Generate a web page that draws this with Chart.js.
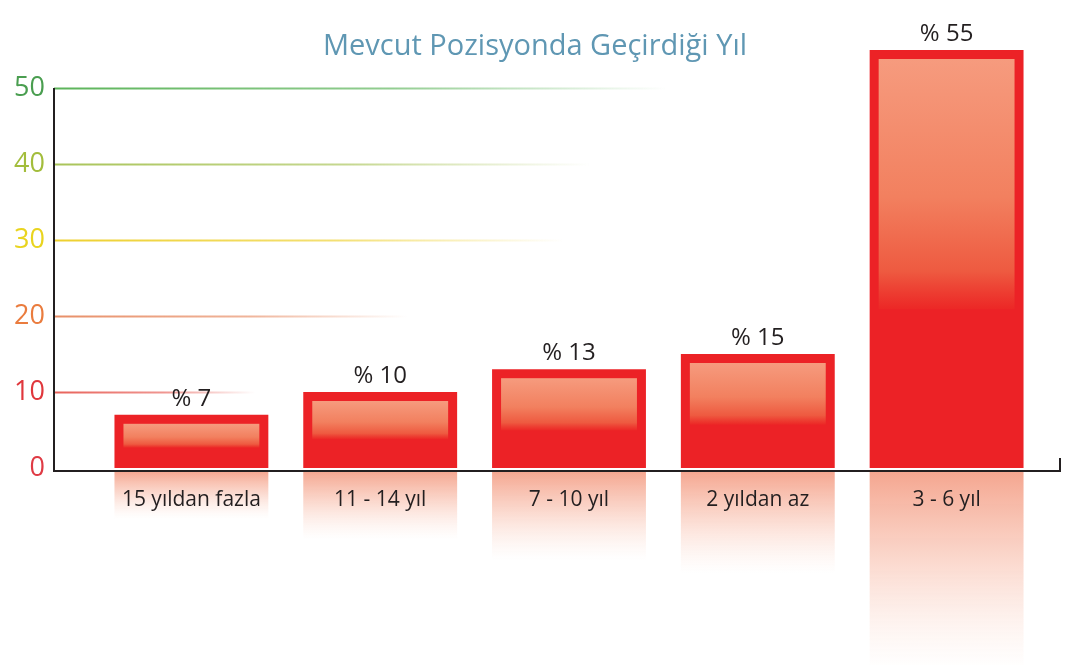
<!DOCTYPE html>
<html lang="tr">
<head>
<meta charset="utf-8">
<title>Mevcut Pozisyonda Geçirdiği Yıl</title>
<script src="https://cdn.jsdelivr.net/npm/chart.js@4"></script>
<style>
  html, body { margin: 0; padding: 0; background: #ffffff; }
  #wrap { width: 1072px; height: 665px; position: relative; }
</style>
</head>
<body>
<div id="wrap"><canvas id="chart"></canvas></div>
<script>
'use strict';

// ─── Data ────────────────────────────────────────────────
const titleText = 'Mevcut Pozisyonda Geçirdiği Yıl';
const categories = ['15 yıldan fazla', '11 - 14 yıl', '7 - 10 yıl', '2 yıldan az', '3 - 6 yıl'];
const shares = [7, 10, 13, 15, 55];
const yTickValues = [0, 10, 20, 30, 40, 50];

// ─── Styles ──────────────────────────────────────────────
const tickColors = { 0: '#df3a44', 10: '#e0373c', 20: '#ea7c3e', 30: '#e9d41f', 40: '#a3bd3c', 50: '#4a9e50' };
const gridColors = { 10: '#e8625a', 20: '#e88f68', 30: '#eed02e', 40: '#a9c459', 50: '#5cb45a' };
const gridEnds   = { 10: 255, 20: 407, 30: 563, 40: 590, 50: 667 };
const BAR_RED = '#ec2226';
const FONT = "'Open Sans', sans-serif";

// Reflections, highlights, gridlines, axes, value labels, title
const decoPlugin = {
  id: 'deco',
  beforeDraw(chart) {
    const { ctx: c, chartArea: { left, bottom }, scales: { y } } = chart;
    // faded coloured gridlines
    yTickValues.forEach(v => {
      if (!gridColors[v]) return;
      const py = Math.round(y.getPixelForValue(v)) + 0.5;
      const x0 = left - 43, x1 = gridEnds[v];
      const g = c.createLinearGradient(x0, 0, x1, 0);
      g.addColorStop(0, gridColors[v]);
      g.addColorStop(0.55, gridColors[v] + 'aa');
      g.addColorStop(1, gridColors[v] + '00');
      c.save();
      c.strokeStyle = g;
      c.lineWidth = 2;
      c.beginPath(); c.moveTo(x0, py); c.lineTo(x1, py); c.stroke();
      c.restore();
    });
    // reflections under the axis
    const meta = chart.getDatasetMeta(0);
    meta.data.forEach(bar => {
      const h = bar.base - bar.y;
      const len = Math.min(h * 0.9, 200);
      const top = bottom + 3;
      const g = c.createLinearGradient(0, top, 0, top + len);
      g.addColorStop(0, 'rgba(240,128,96,0.7)');
      g.addColorStop(0.5, 'rgba(244,150,120,0.32)');
      g.addColorStop(1, 'rgba(250,200,180,0)');
      c.save();
      c.fillStyle = g;
      c.fillRect(bar.x - bar.width / 2, top, bar.width, len);
      c.restore();
    });
  },
  afterDatasetsDraw(chart) {
    const { ctx: c, chartArea: { left, right, top, bottom } } = chart;
    const meta = chart.getDatasetMeta(0);
    meta.data.forEach((bar, i) => {
      const h = bar.base - bar.y;
      const x0 = bar.x - bar.width / 2 + 9;
      const w = bar.width - 18;
      const y0 = bar.y + 9;
      const ih = Math.max(h * 0.62 - 9, 10);
      const g = c.createLinearGradient(0, y0, 0, y0 + ih);
      g.addColorStop(0, '#f69b7e');
      g.addColorStop(0.55, '#f2805f');
      g.addColorStop(0.85, '#ee5a40');
      g.addColorStop(1, 'rgba(236,40,38,0.9)');
      c.save();
      c.fillStyle = g;
      c.fillRect(x0, y0, w, ih);
      // value label
      c.fillStyle = '#231f20';
      c.font = `24px ${FONT}`;
      c.textAlign = 'center';
      c.textBaseline = 'alphabetic';
      c.fillText('% ' + shares[i], bar.x, bar.y - 9);
      c.restore();
    });
    // axes
    const ax = left - 43, ay = bottom + 3;
    c.save();
    c.strokeStyle = '#231f20';
    c.lineWidth = 2;
    c.beginPath();
    c.moveTo(ax, top);
    c.lineTo(ax, ay);
    c.lineTo(right + 19, ay);
    c.lineTo(right + 19, ay - 13);
    c.stroke();
    c.restore();
  },
  afterDraw(chart) {
    const c = chart.ctx;
    c.save();
    c.fillStyle = '#5f97b3';
    c.font = `29px ${FONT}`;
    c.textAlign = 'center';
    c.textBaseline = 'middle';
    c.fillText(titleText, 535, 47);
    c.restore();
  },
};

const chart = new Chart(document.getElementById('chart'), {
  type: 'bar',
  data: {
    labels: categories,
    datasets: [{
      data: shares,
      backgroundColor: BAR_RED,
      borderWidth: 0,
      categoryPercentage: 1,
      barPercentage: 0.815,
      clip: false,
    }],
  },
  options: {
    responsive: true,
    maintainAspectRatio: false,
    animation: false,
    layout: { padding: { top: 88, right: 31, left: 0, bottom: 0 } },
    plugins: {
      legend: { display: false },
      tooltip: { enabled: false },
    },
    scales: {
      x: {
        grid: { display: false, drawTicks: false },
        border: { display: false },
        ticks: { font: { family: FONT, size: 21 }, color: '#231f20', padding: 19 },
        afterFit(scale) { scale.height = 197; },
      },
      y: {
        min: 0, max: 50,
        grid: { display: false, drawTicks: false },
        border: { display: false },
        afterBuildTicks(scale) { scale.ticks = yTickValues.map(v => ({ value: v })); },
        ticks: {
          font: { family: FONT, size: 27 },
          color: ctx => tickColors[ctx.tick.value] || '#444',
          padding: 52,
        },
        afterFit(scale) { scale.width = 97; },
      },
    },
  },
  plugins: [decoPlugin],
});
</script>
</body>
</html>
